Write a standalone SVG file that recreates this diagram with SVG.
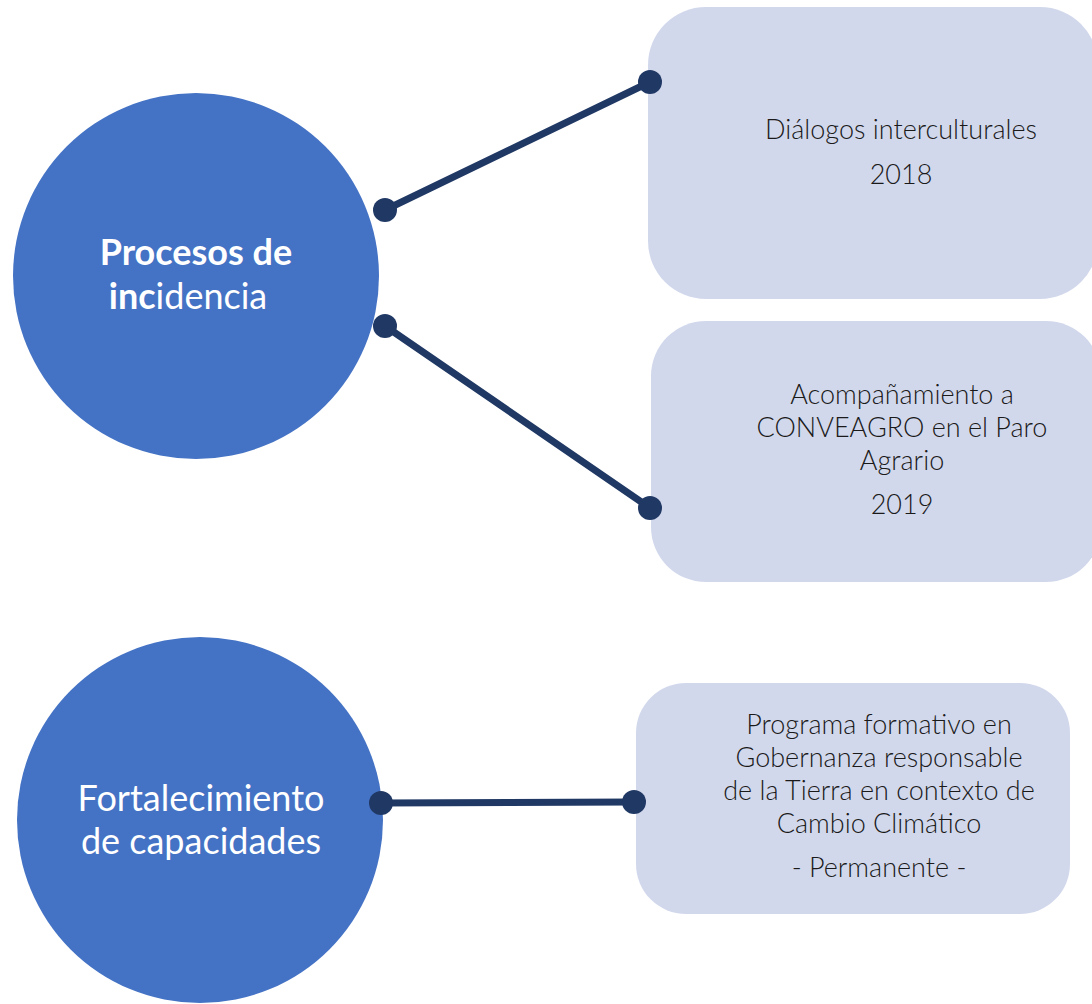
<svg xmlns="http://www.w3.org/2000/svg" width="1092" height="1004" viewBox="0 0 1092 1004">
<style>
.circle{fill:#4472C4}
.box{fill:#D2D8EC}
.ct{font-family:Lato,"Open Sans",sans-serif;font-size:36px;fill:#ffffff;text-anchor:middle}
.bt{font-family:Lato,"Open Sans",sans-serif;font-weight:300;font-size:27px;fill:#1a1a1a;text-anchor:middle}
.ln{stroke:#203864;stroke-width:7;fill:none;stroke-linecap:round}
.dot{fill:#203864}
</style>
<rect width="1092" height="1004" fill="#ffffff"/>
<g id="node-procesos">
<circle class="circle" cx="196" cy="276" r="183"/>
<text class="ct" x="196" y="265"><tspan font-weight="bold">Procesos de</tspan></text>
<text class="ct" x="188" y="309"><tspan font-weight="bold">inc</tspan>idencia</text>
</g>
<g id="node-fortalecimiento">
<circle class="circle" cx="200" cy="820" r="183"/>
<text class="ct" x="201" y="811">Fortalecimiento</text>
<text class="ct" x="201" y="854">de capacidades</text>
</g>
<g id="node-dialogos">
<rect class="box" x="648" y="7" width="450" height="292" rx="58"/>
<text class="bt" x="901" y="139">Diálogos interculturales</text>
<text class="bt" x="901" y="184">2018</text>
</g>
<g id="node-acompanamiento">
<rect class="box" x="651" y="321" width="450" height="261" rx="55"/>
<text class="bt" x="902" y="404">Acompañamiento a</text>
<text class="bt" x="902" y="437">CONVEAGRO en el Paro</text>
<text class="bt" x="902" y="470">Agrario</text>
<text class="bt" x="902" y="514">2019</text>
</g>
<g id="node-programa">
<rect class="box" x="636" y="683" width="434" height="231" rx="50"/>
<text class="bt" x="879" y="734">Programa formativo en</text>
<text class="bt" x="879" y="767">Gobernanza responsable</text>
<text class="bt" x="879" y="800">de la Tierra en contexto de</text>
<text class="bt" x="879" y="833">Cambio Climático</text>
<text class="bt" x="879" y="877">- Permanente -</text>
</g>
<g id="connectors">
<line class="ln" x1="385" y1="210" x2="650" y2="82"/>
<circle class="dot" cx="385" cy="210" r="12"/>
<circle class="dot" cx="650" cy="82" r="12"/>
<line class="ln" x1="385" y1="326" x2="650" y2="508"/>
<circle class="dot" cx="385" cy="326" r="12"/>
<circle class="dot" cx="650" cy="508" r="12"/>
<line class="ln" x1="381" y1="803" x2="634" y2="802"/>
<circle class="dot" cx="381" cy="803" r="12"/>
<circle class="dot" cx="634" cy="802" r="12"/>
</g>
</svg>
